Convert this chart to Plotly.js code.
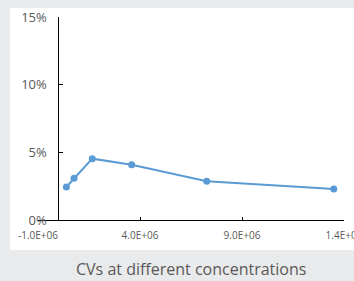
<!DOCTYPE html>
<html>
<head>
<meta charset="utf-8">
<script src="https://cdn.plot.ly/plotly-3.0.1.min.js"></script>
<style>
html,body{margin:0;padding:0;background:#e9eaeb;width:354px;height:281px;overflow:hidden;}
#wrap{position:relative;width:354px;height:281px;overflow:hidden;background:#e9eaeb;}
#panel{position:absolute;left:10px;top:8px;width:344px;height:242px;background:#ffffff;}
#chart{position:absolute;left:0;top:0;width:354px;height:281px;}
</style>
</head>
<body>
<div id="wrap"><div id="panel"></div><div id="chart"></div></div>
<script>
const concentrations = [390000, 765000, 1660000, 3590000, 7270000, 13500000];
const cvPercent = [2.44, 3.08, 4.53, 4.09, 2.86, 2.29];
const xTickVals = [-1000000, 4000000, 9000000, 14000000];
const xTickText = ['-1.0E+06', '4.0E+06', '9.0E+06', '1.4E+07'];
const yTickVals = [0, 5, 10, 15];
const yTickText = ['0%', '5%', '10%', '15%'];
const caption = 'CVs at different concentrations';

const xMin = -1000000, xMax = 14000000;

const trace = {
  x: concentrations,
  y: cvPercent,
  type: 'scatter',
  mode: 'lines+markers',
  line: {color: '#5b9bd5', width: 2},
  marker: {color: '#5b9bd5', size: 7},
  hoverinfo: 'skip',
  cliponaxis: false
};

const layout = {
  width: 354, height: 281,
  margin: {l: 38, r: 10, t: 17, b: 61, pad: 0},
  paper_bgcolor: 'rgba(0,0,0,0)',
  plot_bgcolor: 'rgba(0,0,0,0)',
  showlegend: false,
  font: {family: '"Open Sans", "Noto Sans", sans-serif', color: '#595959'},
  xaxis: {
    range: [xMin, xMax],
    tickmode: 'array',
    tickvals: xTickVals,
    ticktext: xTickText,
    ticklabeloverflow: 'allow',
    showgrid: false,
    zeroline: false,
    showline: true,
    linecolor: '#000000',
    linewidth: 1,
    ticks: 'inside',
    ticklen: 3,
    tickcolor: '#000000',
    tickfont: {size: 10, color: '#595959'},
    ticklabelstandoff: 6,
    automargin: false,
    fixedrange: true
  },
  yaxis: {
    range: [0, 15],
    tickmode: 'array',
    tickvals: yTickVals,
    ticktext: yTickText,
    ticklabeloverflow: 'allow',
    anchor: 'free',
    position: (0 - xMin) / (xMax - xMin),
    showgrid: false,
    zeroline: false,
    showline: true,
    linecolor: '#000000',
    linewidth: 1,
    ticks: 'inside',
    ticklen: 4,
    tickcolor: '#000000',
    tickfont: {size: 13, color: '#595959'},
    ticklabelstandoff: 9,
    automargin: false,
    fixedrange: true
  },
  annotations: [{
    text: caption,
    xref: 'paper', yref: 'paper',
    x: (191 - 38) / 306, y: (220 - 269) / 203,
    xanchor: 'center', yanchor: 'middle',
    showarrow: false,
    font: {size: 16, color: '#595959'}
  }]
};

Plotly.newPlot('chart', [trace], layout, {displayModeBar: false, staticPlot: true});
</script>
</body>
</html>
